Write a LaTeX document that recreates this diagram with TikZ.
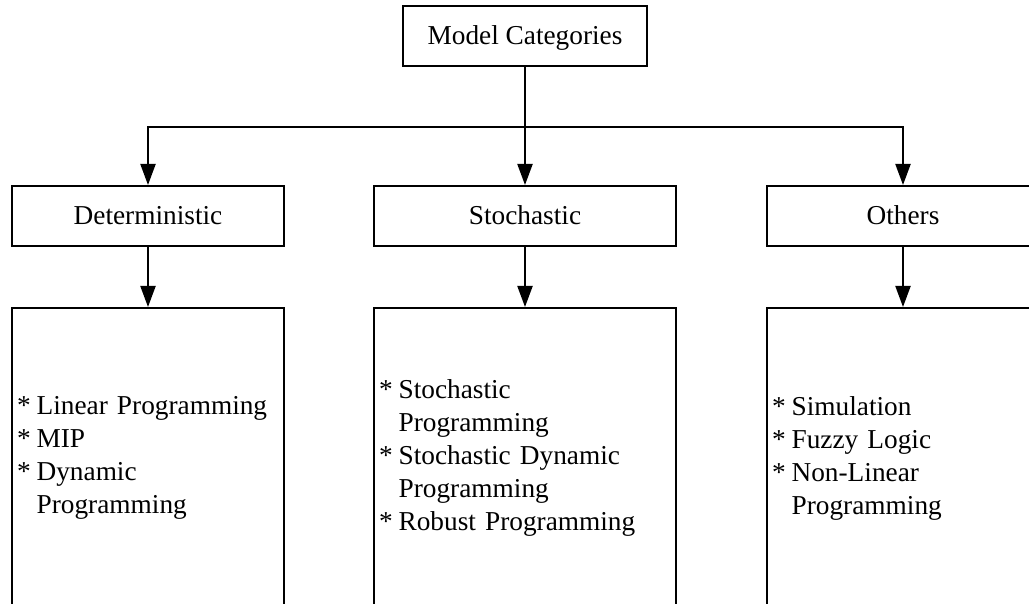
\documentclass[tikz,border=0pt]{standalone}
\usepackage{fontspec}
\setmainfont{Liberation Serif}
\usetikzlibrary{arrows.meta}
\newcommand{\itemstar}{{*}\hspace{6pt}}
\newcommand{\itemgap}{\hphantom{*}\hspace{6pt}}
\begin{document}
\begin{tikzpicture}[x=1pt,y=-1pt,
  every node/.style={font=\fontsize{27.3}{33}\selectfont},
  headbox/.style={draw, line width=2pt, rectangle, inner sep=0pt,
    minimum height=60pt, text height=18pt, text depth=0pt},
  listbox/.style={draw, line width=2pt, rectangle, anchor=north,
    minimum height=300pt, inner xsep=5pt, inner ysep=0pt, align=left},
  conn/.style={line width=2pt},
  arr/.style={conn, -{Triangle[length=21pt,width=15pt]}}]
\useasboundingbox (0,0) rectangle (1029,604);
\clip (0,0) rectangle (1029,604);

% category headings
\node[headbox, minimum width=244pt] (top) at (525,36) {Model Categories};
\node[headbox, minimum width=272pt] (det) at (148,216) {Deterministic};
\node[headbox, minimum width=302pt] (sto) at (525,216) {Stochastic};
\node[headbox, minimum width=272pt] (oth) at (903,216) {Others};

% branching connectors
\coordinate (bus) at (525,127);
\draw[conn] (top.south) -- (bus);
\draw[arr] (bus) -- (sto.north);
\draw[arr] (bus) -| (det.north);
\draw[arr] (bus) -| (oth.north);

% method lists
\node[listbox, text width=262pt] (detlist) at (148,307)
  {\itemstar Linear Programming\\ \itemstar MIP\\ \itemstar Dynamic\\ \itemgap Programming};
\node[listbox, text width=292pt] (stolist) at (525,307)
  {\itemstar Stochastic\\ \itemgap Programming\\ \itemstar Stochastic Dynamic\\ \itemgap Programming\\ \itemstar Robust Programming};
\node[listbox, text width=262pt] (othlist) at (903,307)
  {\itemstar Simulation\\ \itemstar Fuzzy Logic\\ \itemstar Non-Linear\\ \itemgap Programming};

\draw[arr] (det.south) -- (detlist.north);
\draw[arr] (sto.south) -- (stolist.north);
\draw[arr] (oth.south) -- (othlist.north);
\end{tikzpicture}
\end{document}
